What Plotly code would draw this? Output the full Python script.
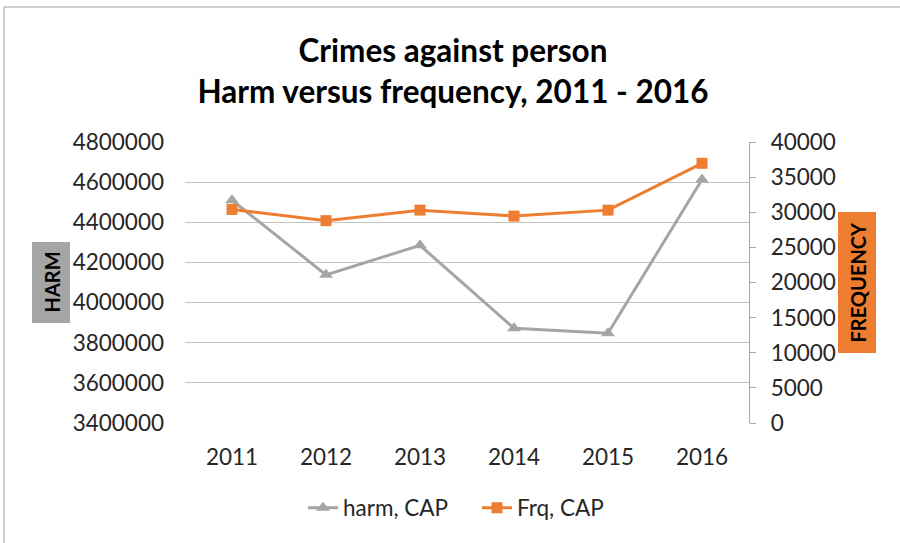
import plotly.graph_objects as go

years = ["2011", "2012", "2013", "2014", "2015", "2016"]
harm = [4510000, 4138000, 4285000, 3872000, 3847000, 4613000]
frq = [30400, 28800, 30300, 29450, 30300, 36970]

harm_ticks = list(range(3400000, 4800001, 200000))
frq_ticks = list(range(0, 40001, 5000))

GRAY = "#A5A5A5"
ORANGE = "#ED7D31"
FONT = "Lato"
TXT = "#262626"
FS = 22.5

fig = go.Figure()
fig.add_trace(go.Scatter(
    x=years, y=harm, name="harm, CAP", mode="lines+markers",
    line=dict(color=GRAY, width=3),
    marker=dict(symbol="triangle-up", size=12, color=GRAY),
    yaxis="y"))
fig.add_trace(go.Scatter(
    x=years, y=frq, name="Frq, CAP", mode="lines+markers",
    line=dict(color=ORANGE, width=3),
    marker=dict(symbol="square", size=11, color=ORANGE),
    yaxis="y2"))

L, R, T, B = 185, 749, 142, 423
W, H = R - L, B - T

def px(x):
    return (x - L) / W

def py(y):
    return (B - y) / H

fig.update_layout(
    width=900, height=543,
    margin=dict(l=L, r=900 - R, t=T, b=543 - B, autoexpand=False),
    paper_bgcolor="white", plot_bgcolor="white",
    font=dict(family=FONT, color=TXT, size=FS),
    title=dict(
        text="Crimes against person<br>Harm versus frequency, 2011 - 2016",
        x=453 / 900, xanchor="center", xref="container",
        y=1 - 62 / 543, yanchor="middle", yref="container",
        font=dict(family=FONT, size=31.5, color="#000000", weight="bold")),
    xaxis=dict(type="category", range=[-0.5, 5.5], showgrid=False,
               showline=False, ticks="", ticklabelstandoff=18,
               tickfont=dict(size=FS, color=TXT)),
    yaxis=dict(range=[3400000, 4800000], tickvals=harm_ticks,
               ticktext=[str(v) for v in harm_ticks],
               showgrid=True, gridcolor="#C4C4C4", gridwidth=1.3,
               zeroline=False, showline=False, ticks="",
               ticklabelstandoff=20,
               tickfont=dict(size=FS, color=TXT)),
    yaxis2=dict(range=[0, 40000], tickvals=frq_ticks,
                ticktext=[str(v) for v in frq_ticks],
                overlaying="y", side="right", showgrid=False,
                zeroline=False, showline=True, linecolor="#A6A6A6", linewidth=1.3,
                ticks="outside", ticklen=6, tickcolor="#A6A6A6",
                ticklabelstandoff=10,
                tickfont=dict(size=FS, color=TXT)),
    legend=dict(orientation="h", xref="container", x=303 / 900, xanchor="left",
                y=py(508), yanchor="middle",
                entrywidth=129, entrywidthmode="pixels",
                font=dict(size=FS, color=TXT),
                bgcolor="rgba(0,0,0,0)"),
    showlegend=True,
)

# axis title boxes
fig.add_shape(type="rect", xref="paper", yref="paper",
              x0=px(32), x1=px(70), y0=py(323), y1=py(242),
              fillcolor="#A5A5A5", line=dict(width=0), layer="below")
fig.add_shape(type="rect", xref="paper", yref="paper",
              x0=px(838), x1=px(876), y0=py(353), y1=py(212),
              fillcolor=ORANGE, line=dict(width=0), layer="below")
fig.add_annotation(text="<b>HARM</b>", xref="paper", yref="paper",
                   x=px(51), y=py(282.5), xanchor="center", yanchor="middle",
                   textangle=-90, showarrow=False,
                   font=dict(family=FONT, size=20, color="#000000"))
fig.add_annotation(text="<b>FREQUENCY</b>", xref="paper", yref="paper",
                   x=px(857), y=py(282.5), xanchor="center", yanchor="middle",
                   textangle=-90, showarrow=False,
                   font=dict(family=FONT, size=20, color="#000000"))

# outer chart border (top and left visible)
fig.add_shape(type="line", xref="paper", yref="paper",
              x0=px(4), x1=px(905), y0=py(7), y1=py(7),
              line=dict(color="#BFBFBF", width=1.5))
fig.add_shape(type="line", xref="paper", yref="paper",
              x0=px(4), x1=px(4), y0=py(7), y1=py(560),
              line=dict(color="#BFBFBF", width=1.5))

fig.write_html("out.html", config={"displayModeBar": False},
               post_script="document.body.style.margin='0';document.body.style.overflow='hidden';")
